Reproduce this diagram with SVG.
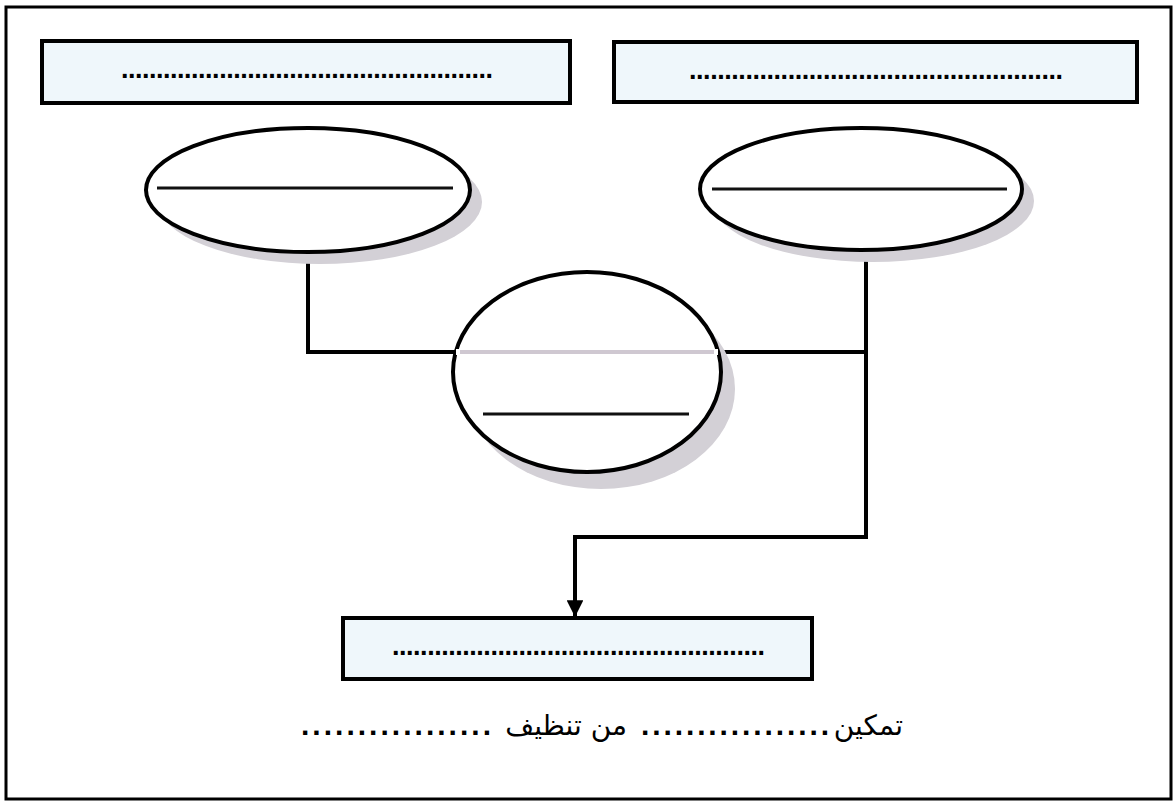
<svg xmlns="http://www.w3.org/2000/svg" width="1176" height="803" viewBox="0 0 1176 803">
<defs>
<style>
.box{fill:#eff7fb;stroke:#000;stroke-width:4}
.ell{fill:#fff;stroke:#000;stroke-width:4}
.shadow{fill:#d3d0d6}
.dots{font-family:"Liberation Sans",Arial,sans-serif;font-weight:bold;font-size:27px;fill:#000}
.cdots{font-family:"Liberation Sans",Arial,sans-serif;font-weight:bold;font-size:30px;fill:#000}
.blank{stroke:#111;stroke-width:3}
.conn{fill:none;stroke:#000;stroke-width:4}
.ar{font-family:"DejaVu Sans","Noto Sans",sans-serif;font-size:28px;fill:#000}
</style>
<marker id="arrow" viewBox="0 0 10 10" refX="10" refY="5" markerWidth="4.2" markerHeight="4.2" markerUnits="strokeWidth" orient="auto">
<path d="M0,0 L10,5 L0,10 z" fill="#000"/>
</marker>
</defs>
<rect x="0" y="0" width="1176" height="803" fill="#fff"/>
<rect x="6" y="7" width="1165" height="792" fill="none" stroke="#000" stroke-width="3"/>

<g id="box-top-left">
<rect class="box" x="42" y="41" width="528" height="62"/>
<text class="dots" x="121" y="78" textLength="372" lengthAdjust="spacing">.....................................................</text>
</g>
<g id="box-top-right">
<rect class="box" x="614" y="42" width="523" height="60"/>
<text class="dots" x="689" y="79" textLength="374" lengthAdjust="spacing">.....................................................</text>
</g>

<g id="connectors">
<path class="conn" d="M308,252 V352 H455"/>
<path class="conn" d="M719,352 H866"/>
<path class="conn" d="M866,250 V537 H575 V617" marker-end="url(#arrow)"/>
</g>

<g id="ellipse-left">
<ellipse class="shadow" cx="320" cy="202" rx="162" ry="62"/>
<ellipse class="ell" cx="308" cy="190" rx="162" ry="62"/>
<line class="blank" x1="157" y1="188" x2="453" y2="188"/>
</g>
<g id="ellipse-right">
<ellipse class="shadow" cx="873" cy="201" rx="161" ry="61"/>
<ellipse class="ell" cx="861" cy="189" rx="161" ry="61"/>
<line class="blank" x1="712" y1="189" x2="1007" y2="189"/>
</g>
<g id="ellipse-center">
<ellipse class="shadow" cx="601" cy="389" rx="134" ry="100"/>
<ellipse class="ell" cx="587" cy="372" rx="134" ry="100"/>
<line x1="456" y1="352" x2="718" y2="352" stroke="#fff" stroke-width="6"/>
<line x1="460" y1="352" x2="714" y2="352" stroke="#cfc8d1" stroke-width="4"/>
<line class="blank" x1="483" y1="414" x2="689" y2="414"/>
</g>

<g id="box-bottom">
<rect class="box" x="343" y="618" width="469" height="61"/>
<text class="dots" x="392" y="655" textLength="373" lengthAdjust="spacing">.....................................................</text>
</g>

<g id="caption">
<text class="ar" x="903" y="735" text-anchor="end">تمكين</text>
<text class="cdots" x="641" y="735" textLength="188" lengthAdjust="spacing">.................</text>
<text class="ar" x="627" y="735" text-anchor="end">من تنظيف</text>
<text class="cdots" x="301" y="735" textLength="190" lengthAdjust="spacing">.................</text>
</g>
</svg>
